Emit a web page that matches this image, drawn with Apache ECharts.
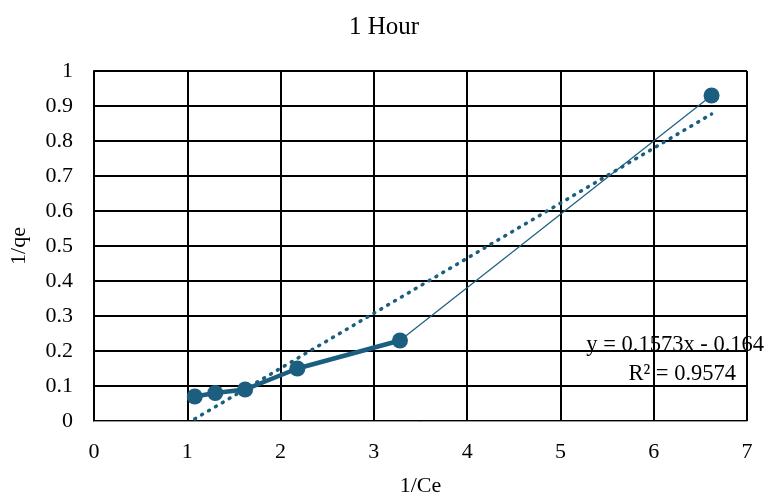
<!DOCTYPE html>
<html><head><meta charset="utf-8">
<script src="https://cdn.jsdelivr.net/npm/echarts@6/dist/echarts.min.js"></script>
<style>html,body{margin:0;padding:0;background:#fff}#c{width:778px;height:502px}</style>
</head><body><div id="c"></div>
<script>
const xValues = [1.08, 1.30, 1.62, 2.18, 3.28, 6.62];
const yValues = [0.07, 0.08, 0.09, 0.15, 0.23, 0.93];
const trendX = [1.08, 6.62];
const trendY = [0.006, 0.877];
const xTicks = [0,1,2,3,4,5,6,7];
const yTicks = [0,0.1,0.2,0.3,0.4,0.5,0.6,0.7,0.8,0.9,1];
const equationText = 'y = 0.1573x - 0.164';
const r2Text = 'R² = 0.9574';

const color = '#1B5E80';
const font = '"Liberation Serif", "Times New Roman", serif';
const pts = xValues.map((x,i)=>[x, yValues[i]]);
const chart = echarts.init(document.getElementById('c'));
chart.setOption({
  animation:false,
  title:{text:'1 Hour', left:344, top:10, textStyle:{fontFamily:font, fontSize:25, fontWeight:'normal', color:'#000'}},
  grid:{left:93, right:31, top:71, bottom:78},
  xAxis:{type:'value', min:0, max:7, interval:1, name:'1/Ce', nameLocation:'middle', nameGap:54,
    nameTextStyle:{fontFamily:font, fontSize:22, color:'#000'},
    axisLine:{show:true, lineStyle:{color:'#999', width:1}}, axisTick:{show:false},
    axisLabel:{fontFamily:font, fontSize:22, color:'#000', margin:20, formatter:v=>xTicks.includes(v)?String(v):''},
    splitLine:{show:true, lineStyle:{color:'#000', width:2}}},
  yAxis:{type:'value', min:0, max:1, interval:0.1, name:'1/qe', nameLocation:'middle', nameGap:64,
    nameTextStyle:{fontFamily:font, fontSize:22, color:'#000'},
    axisLine:{show:true, lineStyle:{color:'#000', width:2}}, axisTick:{show:false},
    axisLabel:{fontFamily:font, fontSize:22, color:'#000', margin:21, formatter:v=>{const t=yTicks.find(a=>Math.abs(a-v)<1e-9);return t===undefined?'':String(t);}},
    splitLine:{show:true, lineStyle:{color:'#000', width:2}}},
  series:[
    {type:'line', data:trendX.map((x,i)=>[x,trendY[i]]), symbol:'none', lineStyle:{color:color, width:3.5, type:[1,7], cap:'round'}, z:2},
    {type:'line', data:pts.slice(4), symbol:'none', lineStyle:{color:color, width:1.2}, z:3},
    {type:'line', data:pts.slice(0,5), symbol:'circle', symbolSize:16, itemStyle:{color:color, opacity:1}, lineStyle:{color:color, width:4.5}, z:4},
    {type:'scatter', data:pts.slice(5), symbol:'circle', symbolSize:16, itemStyle:{color:color, opacity:1}, z:4}
  ],
  graphic:[
    {type:'text', right:14, top:334, style:{text:equationText, fontFamily:font, fontSize:22.5, fill:'#000'}},
    {type:'text', right:42, top:363, style:{text:r2Text, fontFamily:font, fontSize:22.5, fill:'#000'}}
  ]
});
</script></body></html>
